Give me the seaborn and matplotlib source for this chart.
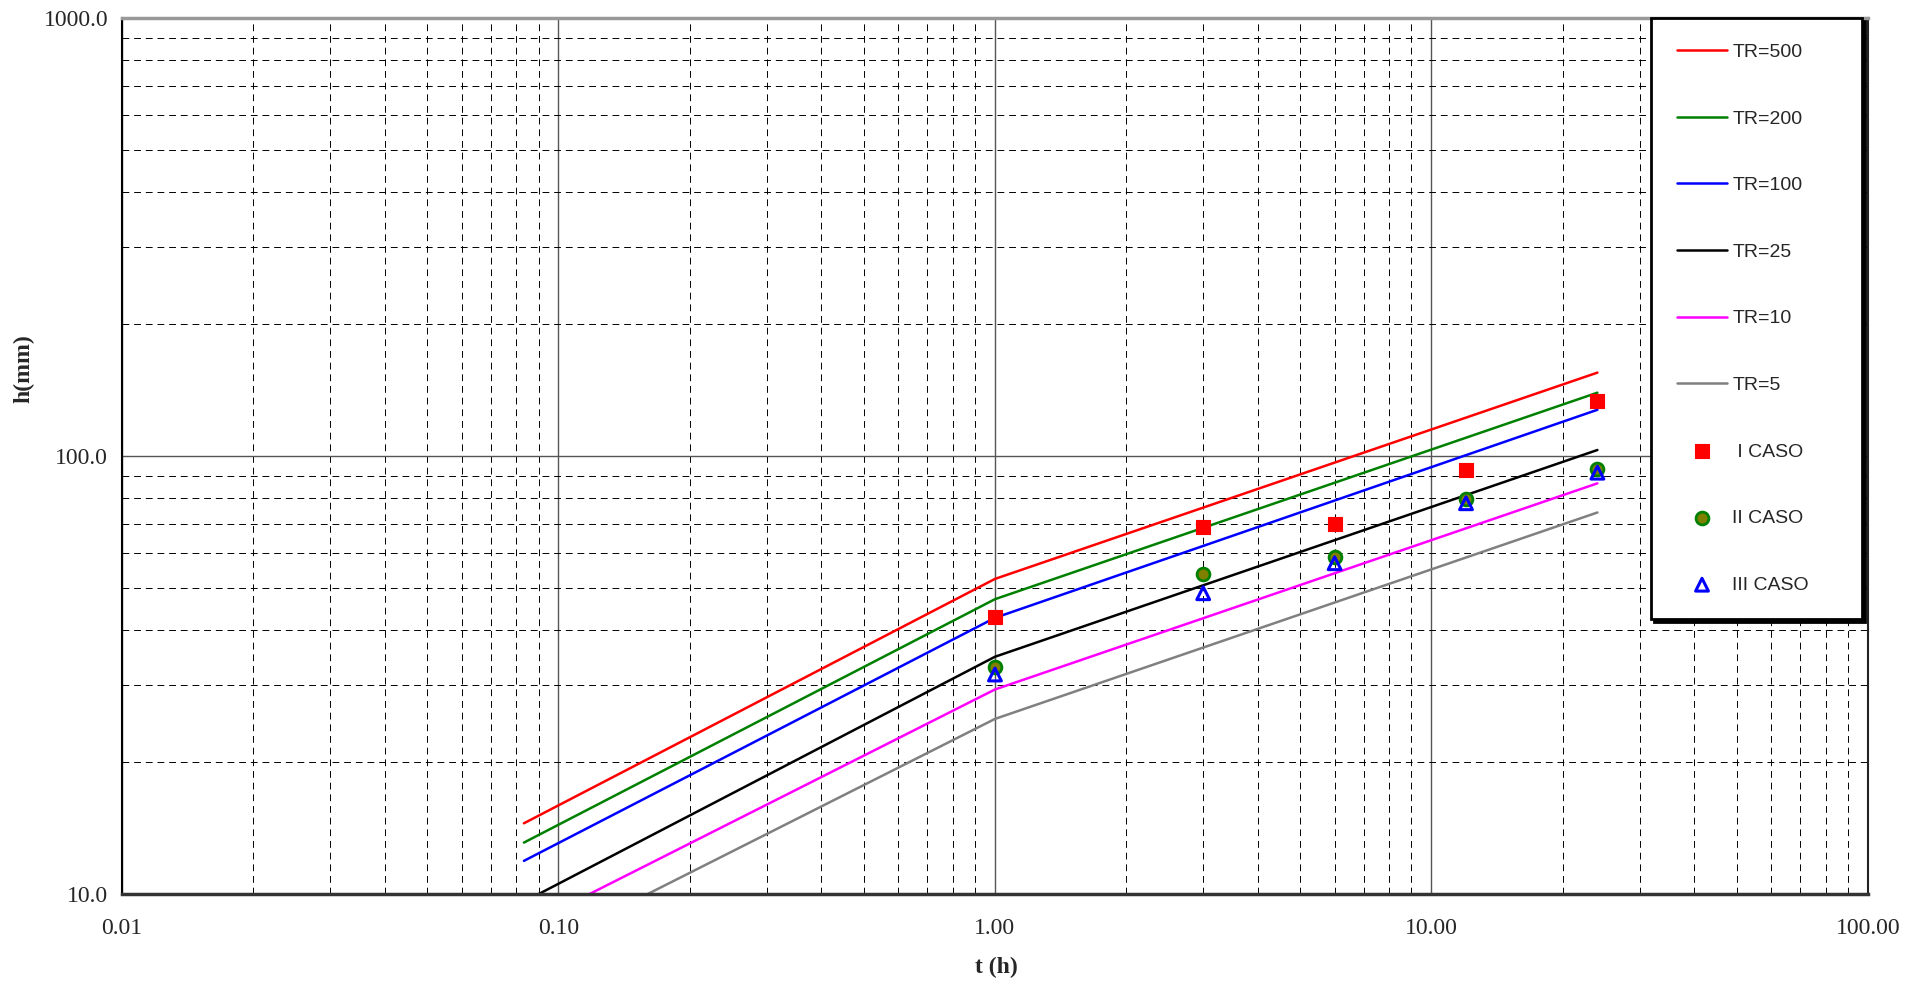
import matplotlib
matplotlib.use('Agg')
import matplotlib.pyplot as plt
import matplotlib.ticker as mticker
import seaborn as sns

# durations (h) used for the IDF lines
durations = [5 / 60, 1, 24]

# IDF curves, h (mm) for each return period
tr500 = [14.5, 52.4, 155.0]
tr200 = [13.1, 47.1, 139.5]
tr100 = [11.9, 42.7, 127.5]
tr25 = [9.6, 34.8, 103.2]
tr10 = [8.4, 29.3, 86.6]
tr5 = [7.2, 25.1, 74.3]

# observed cases
case_durations = [1, 3, 6, 12, 24]
caso_1 = [42.9, 68.7, 69.9, 92.9, 133.6]
caso_2 = [32.9, 53.8, 58.9, 79.8, 93.2]
caso_3 = [31.7, 48.6, 56.9, 78.0, 91.6]

x_ticks = [0.01, 0.1, 1, 10, 100]
x_tick_labels = ['0.01', '0.10', '1.00', '10.00', '100.00']
y_ticks = [10, 100, 1000]
y_tick_labels = ['10.0', '100.0', '1000.0']

sns.set_style('white')
plt.rcParams['font.family'] = ['Liberation Serif', 'DejaVu Serif']

fig = plt.figure(figsize=(19.18, 9.84), dpi=100)
ax = fig.add_axes([0.0636, 0.0915, 0.9103, 0.8902])

curves = [
    ('TR=500', tr500, '#FF0000'),
    ('TR=200', tr200, '#008000'),
    ('TR=100', tr100, '#0000FF'),
    ('TR=25', tr25, '#000000'),
    ('TR=10', tr10, '#FF00FF'),
    ('TR=5', tr5, '#808080'),
]
for label, values, color in curves:
    sns.lineplot(x=durations, y=values, ax=ax, color=color, linewidth=1.8,
                 label=label, estimator=None)

sns.scatterplot(x=case_durations, y=caso_1, ax=ax, marker='s', color='#FF0000',
                edgecolor='#FF0000', s=100, label=' I CASO', zorder=5)
sns.scatterplot(x=case_durations, y=caso_2, ax=ax, marker='o', color='#808000',
                edgecolor='#008000', linewidth=2, s=85, label='II CASO', zorder=6)
sns.scatterplot(x=case_durations, y=caso_3, ax=ax, marker='^', facecolor='none',
                edgecolor='#0000FF', linewidth=2.2, s=85, label='III CASO', zorder=7)

ax.set_xscale('log')
ax.set_yscale('log')
ax.set_xlim(0.01, 100)
ax.set_ylim(10, 1000)

ax.xaxis.set_major_locator(mticker.FixedLocator(x_ticks))
ax.xaxis.set_major_formatter(mticker.FixedFormatter(x_tick_labels))
ax.yaxis.set_major_locator(mticker.FixedLocator(y_ticks))
ax.yaxis.set_major_formatter(mticker.FixedFormatter(y_tick_labels))
ax.xaxis.set_minor_locator(mticker.LogLocator(base=10, subs=range(2, 10)))
ax.yaxis.set_minor_locator(mticker.LogLocator(base=10, subs=range(2, 10)))
ax.xaxis.set_minor_formatter(mticker.NullFormatter())
ax.yaxis.set_minor_formatter(mticker.NullFormatter())

ax.set_axisbelow(True)
ax.grid(which='major', color='#555555', linewidth=1.0, linestyle='-')
ax.grid(which='minor', color='#000000', linewidth=0.7, linestyle=(0, (7, 5)))

ax.tick_params(which='major', direction='out', length=5, width=1, color='black',
               labelsize=17)
ax.tick_params(axis='x', which='major', pad=12)
ax.tick_params(axis='y', which='major', pad=5)
ax.tick_params(which='minor', length=0)

ax.spines['left'].set_color('black')
ax.spines['left'].set_linewidth(1.5)
ax.spines['bottom'].set_color('#333333')
ax.spines['bottom'].set_linewidth(2.5)
ax.spines['top'].set_color('#999999')
ax.spines['top'].set_linewidth(2.5)
ax.spines['right'].set_color('#222222')
ax.spines['right'].set_linewidth(1.5)

ax.set_xlabel('t (h)', fontsize=17, fontweight='bold')
ax.set_ylabel('h(mm)', fontsize=17, fontweight='bold')
ax.xaxis.set_label_coords(0.501, -0.072)
ax.yaxis.set_label_coords(-0.050, 0.60)

handles, labels = ax.get_legend_handles_labels()
leg = ax.legend(handles, labels, loc='upper left',
                bbox_to_anchor=(0.876, 0.308, 0.1206, 0.692), mode='expand',
                prop={'family': 'Liberation Sans', 'size': 14},
                handlelength=2.6, handletextpad=0.25, labelspacing=2.52,
                borderpad=1.3, borderaxespad=0, fancybox=False, framealpha=1,
                edgecolor='black', shadow={'color': 'black', 'alpha': 1})
leg.get_frame().set_linewidth(2)

fig.savefig('out.png', dpi=100)
